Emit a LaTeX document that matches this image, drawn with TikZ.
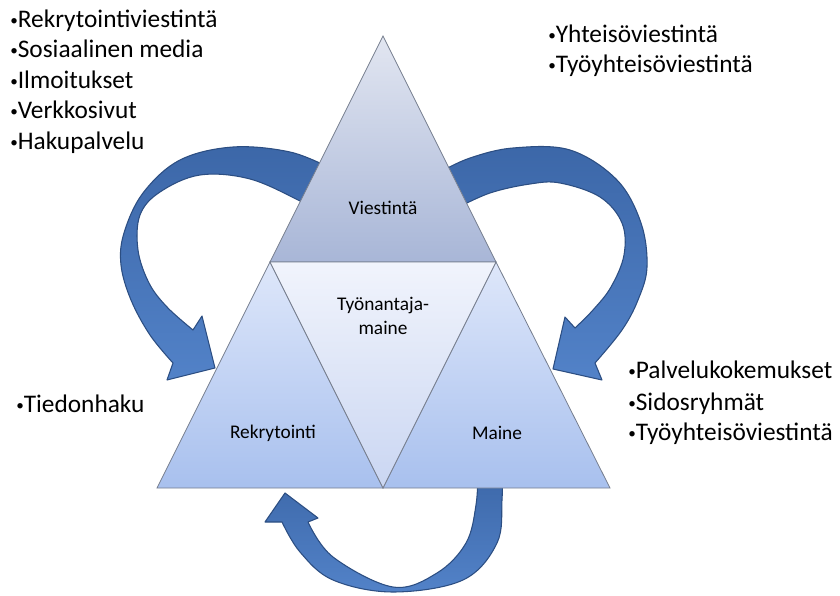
\documentclass[tikz,border=0pt]{standalone}
\usepackage{graphicx}
\usepackage{fontspec}
\setmainfont{Carlito}
\newcommand{\bul}{\raisebox{0.06em}{\scalebox{0.6}{•}}}
\definecolor{topA}{RGB}{226,230,241}
\definecolor{topB}{RGB}{168,182,215}
\definecolor{sideA}{RGB}{222,231,250}
\definecolor{sideB}{RGB}{168,192,238}
\definecolor{midA}{RGB}{241,244,252}
\definecolor{midB}{RGB}{202,214,242}
\definecolor{triedge}{RGB}{118,126,142}
\definecolor{arrowA}{RGB}{60,103,168}
\definecolor{arrowB}{RGB}{82,130,200}
\definecolor{arrowedge}{RGB}{44,78,130}
\tikzset{
  tritop/.style={draw=triedge, line width=0.6pt, top color=topA, bottom color=topB},
  triside/.style={draw=triedge, line width=0.6pt, top color=sideA, bottom color=sideB},
  trimid/.style={draw=triedge, line width=0.6pt, top color=midA, bottom color=midB},
  bigarrow/.style={draw=arrowedge, line width=0.8pt, top color=arrowA, bottom color=arrowB, line join=round},
  listtext/.style={anchor=base west, inner sep=0pt, font=\fontsize{19}{23}\selectfont},
  trilabel/.style={inner sep=0pt, align=center, font=\fontsize{14.5}{18.5}\selectfont}
}
\begin{document}
\begin{tikzpicture}[x=0.75pt,y=-0.75pt]
    \useasboundingbox (0,0) rectangle (840,596);
    % Coordinates
    \coordinate (A) at (383,36);
    \coordinate (P) at (270,262);
    \coordinate (Q) at (496,262);
    \coordinate (L) at (157,488);
    \coordinate (M) at (383,488);
    \coordinate (R) at (610,488);

    % Arrows
    \draw[bigarrow] plot[smooth, tension=0.6] coordinates {(330,168) (290,152) (233,147) (180,160) (143,193) (124,233) (121,265) (131,300) (150,335) (173,363)}
      -- (167,380) -- (215,368) -- (202,316) -- (193,330)
      -- plot[smooth, tension=0.6] coordinates {(193,330) (167,307) (149,283) (138,250) (140,215) (160,192) (200,175) (250,179) (300,201) (320,213)} -- cycle;
    \draw[bigarrow] plot[smooth, tension=0.6] coordinates {(440,172) (470,158) (513,148) (570,150) (617,180) (641,223) (647,267) (638,300) (622,330) (595,363)}
      -- (602,380) -- (553,369) -- (565,317) -- (575,328)
      -- plot[smooth, tension=0.6] coordinates {(575,328) (593,310) (611,287) (624,255) (622,223) (600,197) (560,183) (530,184) (490,193) (455,209)} -- cycle;
    \draw[bigarrow] plot[smooth, tension=0.6] coordinates {(502,470) (502,500) (497,543) (463,580) (393,592) (333,580) (300,552) (282,522)}
      -- (265,522) -- (285,493) -- (318,518) -- (308,522)
      -- plot[smooth, tension=0.6] coordinates {(308,522) (333,557) (393,587) (437,573) (466,543) (476,505) (478,470)} -- cycle;

    % Triangles
    \draw[tritop] (A) -- (P) -- (Q) -- cycle;
    \draw[triside] (P) -- (L) -- (M) -- cycle;
    \draw[triside] (Q) -- (M) -- (R) -- cycle;
    \draw[trimid] (P) -- (Q) -- (M) -- cycle;

    % Labels
    \node[trilabel] (viestinta) at (383,208) {Viestintä};
    \node[trilabel] (tyonantaja) at (383,316) {Työnantaja-\\maine};
    \node[trilabel] (rekrytointi) at (273,433) {Rekrytointi};
    \node[trilabel] (maine) at (497,433) {Maine};

    \node[listtext] (rekviest) at (10,27) {\bul Rekrytointiviestintä};
    \node[listtext] (some) at (10,57) {\bul Sosiaalinen media};
    \node[listtext] (ilmo) at (10,88) {\bul Ilmoitukset};
    \node[listtext] (verkko) at (10,118) {\bul Verkkosivut};
    \node[listtext] (haku) at (10,149) {\bul Hakupalvelu};
    \node[listtext] (yhteiso) at (548,42) {\bul Yhteisöviestintä};
    \node[listtext] (tyoyht) at (548,72) {\bul Työyhteisöviestintä};
    \node[listtext] (palvelu) at (628,378) {\bul Palvelukokemukset};
    \node[listtext] (sidos) at (628,410) {\bul Sidosryhmät};
    \node[listtext] (tyoyhtb) at (628,440) {\bul Työyhteisöviestintä};
    \node[listtext] (tieto) at (16,412) {\bul Tiedonhaku};
\end{tikzpicture}
\end{document}
